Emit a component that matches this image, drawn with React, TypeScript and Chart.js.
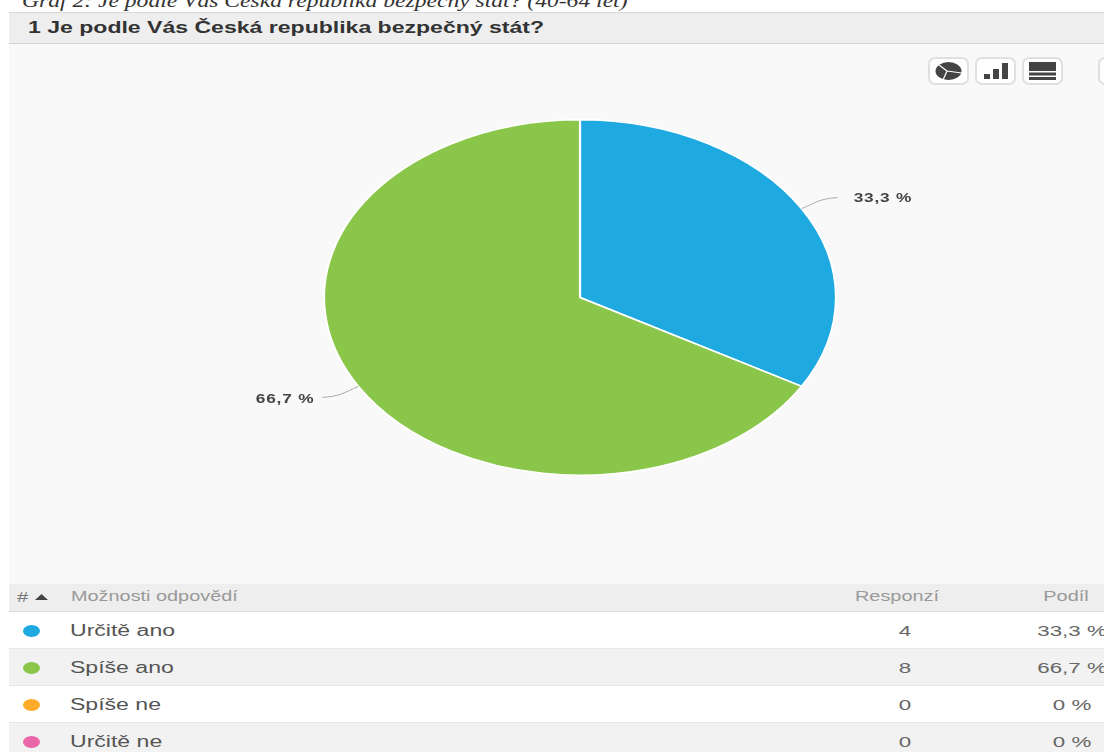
import React, { useEffect, useRef } from "react";
import { Chart, registerables } from "chart.js";

Chart.register(...registerables);

const caption = "Graf 2: Je podle Vás Česká republika bezpečný stát? (40-64 let)";
const question = "1 Je podle Vás Česká republika bezpečný stát?";
const answers = ["Určitě ano", "Spíše ano", "Spíše ne", "Určitě ne"];
const responses = [4, 8, 0, 0];
const shares = ["33,3 %", "66,7 %", "0 %", "0 %"];
const colors = ["#1fa9e1", "#8ac649", "#fdab29", "#e966a9"];
const tableHeads = ["Možnosti odpovědí", "Responzí", "Podíl"];

const STRETCH = 1.44;
const FONT = '"Liberation Sans", Arial, sans-serif';

// The pie is wider than tall: the arcs are drawn through a horizontal scale about the centre.
const ovalPie = {
  id: "ovalPie",
  beforeDatasetsDraw(chart: any) {
    const arc = chart.getDatasetMeta(0).data[0];
    const ctx = chart.ctx;
    ctx.save();
    ctx.translate(arc.x, arc.y);
    ctx.scale(STRETCH, 1);
    ctx.translate(-arc.x, -arc.y);
  },
  afterDatasetsDraw(chart: any) {
    chart.ctx.restore();
  },
};

// Leader lines and percentage labels for the non-empty slices.
const sliceLabels = {
  id: "sliceLabels",
  afterDraw(chart: any) {
    const ctx = chart.ctx;
    chart.getDatasetMeta(0).data.forEach((arc: any, i: number) => {
      if (!responses[i]) return;
      const mid = (arc.startAngle + arc.endAngle) / 2;
      const r = arc.outerRadius;
      const sx = arc.x + Math.cos(mid) * r * STRETCH;
      const sy = arc.y + Math.sin(mid) * r;
      const dir = Math.cos(mid) >= 0 ? 1 : -1;
      ctx.save();
      ctx.strokeStyle = "#aaaaaa";
      ctx.lineWidth = 1;
      ctx.beginPath();
      ctx.moveTo(sx, sy);
      ctx.bezierCurveTo(sx + dir * 14, sy - 6 * dir, sx + dir * 18, sy - 10 * dir, sx + dir * 36, sy - 11 * dir);
      ctx.stroke();
      const tx = sx + (dir > 0 ? 52 : -44);
      const ty = sy - 11 * dir + (dir > 0 ? 1 : 2);
      ctx.translate(tx, ty);
      ctx.scale(STRETCH, 1);
      ctx.font = `bold 12px ${FONT}`;
      (ctx as any).letterSpacing = "0.55px";
      ctx.fillStyle = "#444444";
      ctx.textBaseline = "middle";
      ctx.textAlign = dir > 0 ? "left" : "right";
      ctx.fillText(shares[i], 0, 0);
      ctx.restore();
    });
  },
};

function Stretched({ x, y, align = "left", size, color, bold, children }: any) {
  const shift = align === "center" ? "translateX(-50%) " : "";
  return (
    <span
      style={{
        position: "absolute",
        left: x,
        top: y,
        fontFamily: FONT,
        fontSize: size,
        lineHeight: "20px",
        fontWeight: bold ? 700 : 400,
        color,
        whiteSpace: "nowrap",
        transformOrigin: align === "center" ? "center" : "left",
        transform: `${shift}scaleX(${STRETCH})`,
      }}
    >
      {children}
    </span>
  );
}

function IconButton({ x, width, children }: any) {
  return (
    <div
      style={{
        position: "absolute",
        left: x,
        top: 57,
        width,
        height: 28,
        boxSizing: "border-box",
        background: "#ffffff",
        border: "2px solid #e0e0e0",
        borderRadius: 7,
      }}
    >
      {children}
    </div>
  );
}

export default function App() {
  const canvasRef = useRef<HTMLCanvasElement>(null);

  useEffect(() => {
    document.body.style.margin = "0";
    document.body.style.overflow = "hidden";
    const chart = new Chart(canvasRef.current!, {
      type: "pie",
      data: {
        labels: answers,
        datasets: [
          {
            data: responses,
            backgroundColor: colors,
            borderColor: "#ffffff",
            borderWidth: 1.5,
          },
        ],
      },
      options: {
        animation: false,
        responsive: false,
        layout: { padding: { left: 401.5, right: 345.5, top: 119, bottom: 276 } },
        plugins: { legend: { display: false }, tooltip: { enabled: false } },
      },
      plugins: [ovalPie, sliceLabels],
    } as any);
    return () => chart.destroy();
  }, []);

  const rowTops = [612, 649, 686, 723];

  return (
    <div style={{ position: "absolute", left: 0, top: 0, width: 1104, height: 752, overflow: "hidden", background: "#ffffff" }}>
      <span
        style={{
          position: "absolute",
          left: 22,
          top: -9,
          fontFamily: '"Liberation Serif", serif',
          fontStyle: "italic",
          fontSize: 18,
          lineHeight: "20px",
          color: "#333333",
          whiteSpace: "nowrap",
          transformOrigin: "left",
          transform: "scaleX(1.31)",
        }}
      >
        {caption}
      </span>

      <div style={{ position: "absolute", left: 9, top: 44, width: 1095, height: 540, background: "#f9f9f9" }} />
      <div style={{ position: "absolute", left: 9, top: 12, width: 1095, height: 32, boxSizing: "border-box", background: "#eeeeee", borderTop: "1px solid #d8d8d8", borderBottom: "1px solid #d4d4d4" }} />
      <Stretched x={28} y={18} size={16} color="#333333" bold>
        {question}
      </Stretched>

      <IconButton x={928} width={41}>
        <svg width="37" height="24" viewBox="0 0 37 24">
          <ellipse cx="18.5" cy="12" rx="13" ry="9" fill="#444444" />
          <path d="M17 12 L9 6 M17 12 L31.5 14 M17 12 L13 21" stroke="#ffffff" strokeWidth="1.2" />
        </svg>
      </IconButton>
      <IconButton x={975} width={41}>
        <svg width="37" height="24" viewBox="0 0 37 24">
          <rect x="7" y="15" width="6" height="5" fill="#444444" />
          <rect x="16" y="10" width="6" height="10" fill="#444444" />
          <rect x="25" y="4" width="6" height="16" fill="#444444" />
        </svg>
      </IconButton>
      <IconButton x={1022} width={41}>
        <svg width="37" height="24" viewBox="0 0 37 24">
          <rect x="5" y="3" width="27" height="9" fill="#444444" />
          <rect x="5" y="13.5" width="27" height="3" fill="#444444" />
          <rect x="5" y="18" width="27" height="3" fill="#444444" />
        </svg>
      </IconButton>
      <IconButton x={1098} width={41} />

      <canvas ref={canvasRef} width={1104} height={752} style={{ position: "absolute", left: 0, top: 0, display: "block" }} />

      <div style={{ position: "absolute", left: 9, top: 584, width: 1095, height: 28, boxSizing: "border-box", background: "#eeeeee", borderBottom: "1px solid #dddddd" }} />
      <Stretched x={17} y={587} size={14} color="#777777">#</Stretched>
      <svg style={{ position: "absolute", left: 35, top: 594 }} width="13" height="6">
        <path d="M0 6 L6.5 0 L13 6 Z" fill="#444444" />
      </svg>
      <Stretched x={71} y={587} size={13.8} color="#999999">{tableHeads[0]}</Stretched>
      <Stretched x={897} y={587} align="center" size={13.8} color="#999999">{tableHeads[1]}</Stretched>
      <Stretched x={1066} y={587} align="center" size={13.8} color="#999999">{tableHeads[2]}</Stretched>

      {answers.map((answer, i) => (
        <React.Fragment key={answer}>
          <div style={{ position: "absolute", left: 9, top: rowTops[i], width: 1095, height: 37, boxSizing: "border-box", background: i % 2 ? "#f2f2f2" : "#ffffff", borderBottom: "1px solid #e8e8e8" }} />
          <div style={{ position: "absolute", left: 23, top: rowTops[i] + 13, width: 17, height: 12, borderRadius: "50%", background: colors[i] }} />
          <Stretched x={70} y={rowTops[i] + 9} size={16} color="#555555">{answer}</Stretched>
          <Stretched x={905} y={rowTops[i] + 9} align="center" size={15.5} color="#666666">{responses[i]}</Stretched>
          <Stretched x={1072} y={rowTops[i] + 9} align="center" size={15.5} color="#666666">{shares[i]}</Stretched>
        </React.Fragment>
      ))}
    </div>
  );
}
